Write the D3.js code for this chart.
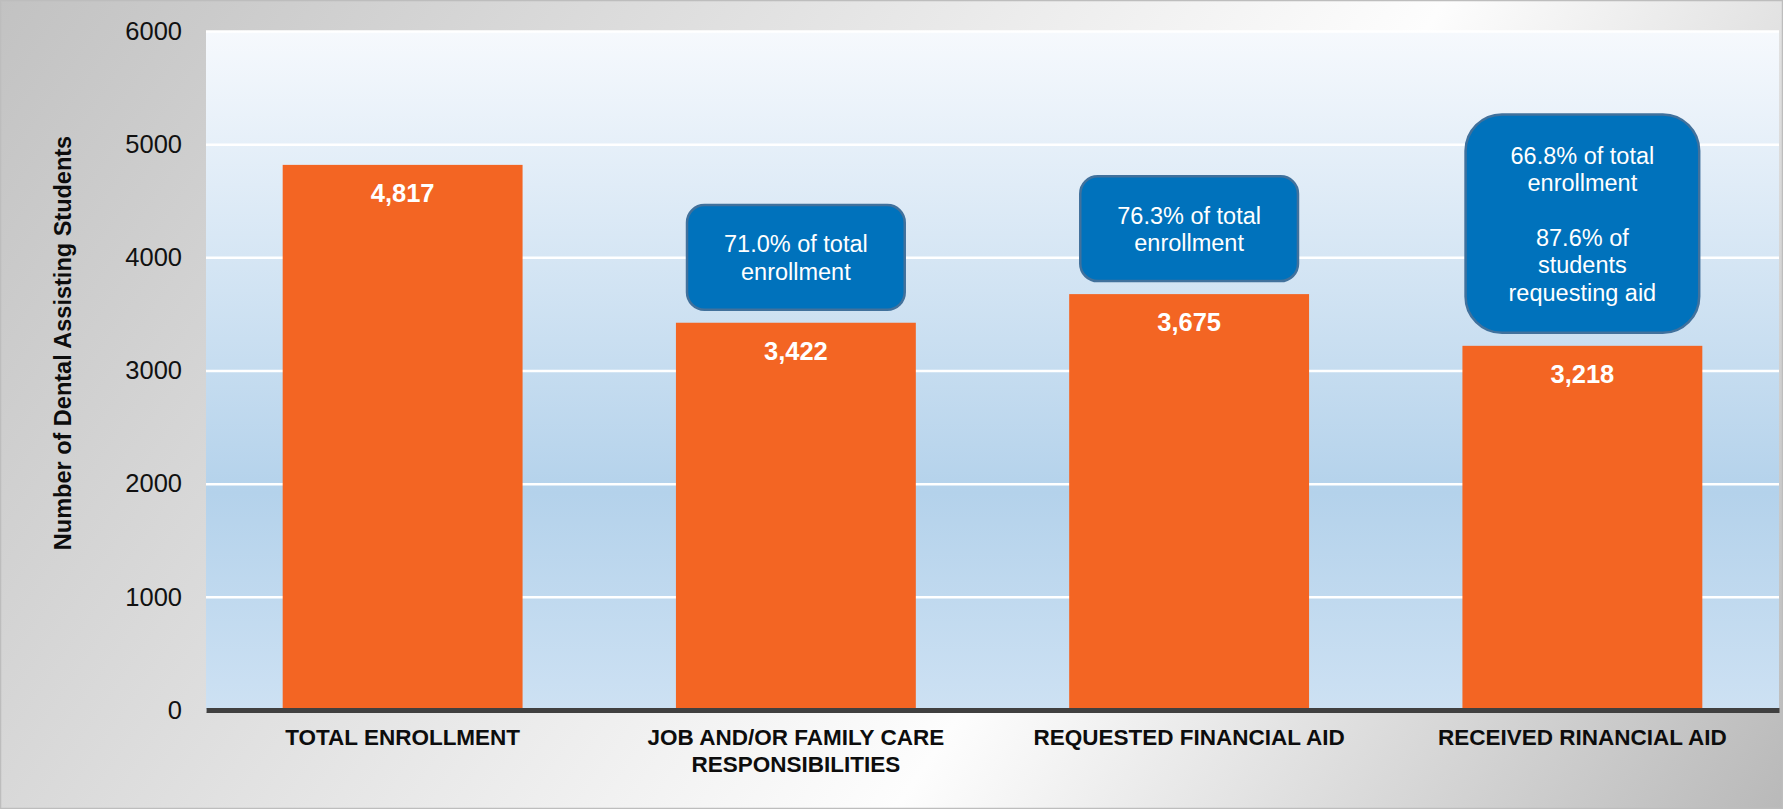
<!DOCTYPE html>
<html>
<head>
<meta charset="utf-8">
<script src="https://cdn.jsdelivr.net/npm/d3@7"></script>
<style>
  html, body { margin: 0; padding: 0; background: #ffffff; }
  svg { display: block; font-family: "Liberation Sans", Arial, sans-serif; }
</style>
</head>
<body>
<div id="chart"></div>
<script>
// Data
var categoryLines = [
    ["TOTAL ENROLLMENT"],
    ["JOB AND/OR FAMILY CARE", "RESPONSIBILITIES"],
    ["REQUESTED FINANCIAL AID"],
    ["RECEIVED RINANCIAL AID"]
];
var categories = categoryLines.map(d => d.join(" "));
var students = [4817, 3422, 3675, 3218];
var yTicks = [0, 1000, 2000, 3000, 4000, 5000, 6000];
var calloutText = [
    null,
    ["71.0% of total", "enrollment"],
    ["76.3% of total", "enrollment"],
    ["66.8% of total", "enrollment", "", "87.6% of", "students", "requesting aid"]
];
var yTitle = "Number of Dental Assisting Students";

// Step 1: Set up chart
var svgWidth = 1783;
var svgHeight = 809;

var margin = { top: 31, right: 4, bottom: 99, left: 206 };
var width = svgWidth - margin.left - margin.right;
var height = svgHeight - margin.top - margin.bottom;

var svg = d3.select("#chart")
    .append("svg")
    .attr("width", svgWidth)
    .attr("height", svgHeight);

// gradients
var defs = svg.append("defs");
var bgGrad = defs.append("linearGradient")
    .attr("id", "bgGrad")
    .attr("gradientUnits", "userSpaceOnUse")
    .attr("x1", 0).attr("y1", 0)
    .attr("x2", 1595).attr("y2", 1084);
bgGrad.append("stop").attr("offset", "0").attr("stop-color", "#c2c2c2");
bgGrad.append("stop").attr("offset", "0.62").attr("stop-color", "#fdfdfd");
bgGrad.append("stop").attr("offset", "1").attr("stop-color", "#b9b9b9");

var plotGrad = defs.append("linearGradient")
    .attr("id", "plotGrad")
    .attr("x1", 0).attr("y1", 0)
    .attr("x2", 0).attr("y2", 1);
plotGrad.append("stop").attr("offset", "0").attr("stop-color", "#f6f9fd");
plotGrad.append("stop").attr("offset", "0.68").attr("stop-color", "#b4d2eb");
plotGrad.append("stop").attr("offset", "1").attr("stop-color", "#cde1f3");

svg.append("rect")
    .attr("x", 0.5).attr("y", 0.5)
    .attr("width", svgWidth - 1).attr("height", svgHeight - 1)
    .attr("fill", "url(#bgGrad)")
    .attr("stroke", "#bdbdbd")
    .attr("stroke-width", 1.5);

var chartGroup = svg.append("g")
    .attr("transform", `translate(${margin.left}, ${margin.top})`);

// Step 2: Scales
var xBandScale = d3.scaleBand()
    .domain(categories)
    .range([0, width])
    .paddingInner(0.39)
    .paddingOuter(0.195);

var yLinearScale = d3.scaleLinear()
    .domain([0, 6000])
    .range([height, 0]);

// plot area
chartGroup.append("rect")
    .attr("width", width)
    .attr("height", height)
    .attr("fill", "url(#plotGrad)");

// Step 3: gridlines + y axis labels
var leftAxis = d3.axisLeft(yLinearScale)
    .tickValues(yTicks)
    .tickSize(-width)
    .tickPadding(24)
    .tickFormat(d3.format("d"));

var yAxisG = chartGroup.append("g").call(leftAxis);
yAxisG.select(".domain").remove();
yAxisG.selectAll(".tick line")
    .attr("stroke", "#ffffff")
    .attr("stroke-width", 2.5);
yAxisG.selectAll(".tick text")
    .attr("fill", "#111111")
    .style("font-size", "25.5px")
    .style("font-family", "'Liberation Sans', Arial, sans-serif");

// Step 4: bars
chartGroup.selectAll(".bar")
    .data(students)
    .enter()
    .append("rect")
    .attr("class", "bar")
    .attr("x", (d, i) => xBandScale(categories[i]))
    .attr("y", d => yLinearScale(d))
    .attr("width", xBandScale.bandwidth())
    .attr("height", d => height - yLinearScale(d))
    .attr("fill", "#f36523");

// value labels
chartGroup.selectAll(".valueLabel")
    .data(students)
    .enter()
    .append("text")
    .attr("class", "valueLabel")
    .attr("x", (d, i) => xBandScale(categories[i]) + xBandScale.bandwidth() / 2)
    .attr("y", d => yLinearScale(d) + 37)
    .attr("text-anchor", "middle")
    .attr("fill", "#ffffff")
    .style("font-size", "25.5px")
    .style("font-weight", "bold")
    .text(d => d3.format(",")(d));

// Step 5: x axis line + category labels
var bottomAxis = d3.axisBottom(xBandScale).tickSize(0).tickFormat("");
var xAxisG = chartGroup.append("g")
    .attr("transform", `translate(0, ${height})`)
    .call(bottomAxis);
xAxisG.select(".domain")
    .attr("stroke", "#404040")
    .attr("stroke-width", 5);

var catLabels = chartGroup.selectAll(".catLabel")
    .data(categoryLines)
    .enter()
    .append("text")
    .attr("class", "catLabel")
    .attr("text-anchor", "middle")
    .attr("fill", "#0d0d0d")
    .style("font-size", "22.5px")
    .style("font-weight", "bold");

catLabels.selectAll("tspan")
    .data((d, i) => d.map(line => ({ line: line, cat: categories[i] })))
    .enter()
    .append("tspan")
    .attr("x", d => xBandScale(d.cat) + xBandScale.bandwidth() / 2)
    .attr("y", (d, j) => height + 35 + j * 26.5)
    .text(d => d.line);

// Step 6: callout boxes above bars
var lineH = 27.4;
calloutText.forEach(function(lines, i) {
    if (!lines) return;
    var cx = xBandScale(categories[i]) + xBandScale.bandwidth() / 2;
    var g = chartGroup.append("g").attr("class", "callout");
    var txt = g.append("text")
        .attr("text-anchor", "middle")
        .attr("fill", "#ffffff")
        .style("font-size", "23.5px");
    lines.forEach(function(l, j) {
        txt.append("tspan")
            .attr("x", cx)
            .attr("dy", j === 0 ? 0 : lineH)
            .text(l === "" ? "\u00a0" : l);
    });
    var tw = d3.max(txt.selectAll("tspan").nodes(), n => n.getComputedTextLength());
    var big = lines.length > 2;
    var boxW = Math.max(tw + 74, 217) + (big ? 12 : 0);
    var boxH = lines.length * lineH + (big ? 54 : 50);
    var boxBottom = yLinearScale(students[i]) - 13;
    var boxTop = boxBottom - boxH;
    var r = Math.min(boxW, boxH) / 6;
    g.insert("rect", "text")
        .attr("x", cx - boxW / 2)
        .attr("y", boxTop)
        .attr("width", boxW)
        .attr("height", boxH)
        .attr("rx", r)
        .attr("ry", r)
        .attr("fill", "#0072bc")
        .attr("stroke", "#41719c")
        .attr("stroke-width", 2.5);
    // vertically centre the text block
    var firstBaseline = boxTop + boxH / 2 - (lines.length - 1) * lineH / 2 + 8.5;
    txt.attr("y", firstBaseline);
    txt.select("tspan").attr("y", firstBaseline);
});

// Step 7: y axis title
svg.append("text")
    .attr("transform", "translate(71, 343) rotate(-90)")
    .attr("text-anchor", "middle")
    .attr("fill", "#0d0d0d")
    .style("font-size", "23.5px")
    .style("font-weight", "bold")
    .text(yTitle);
</script>
</body>
</html>
